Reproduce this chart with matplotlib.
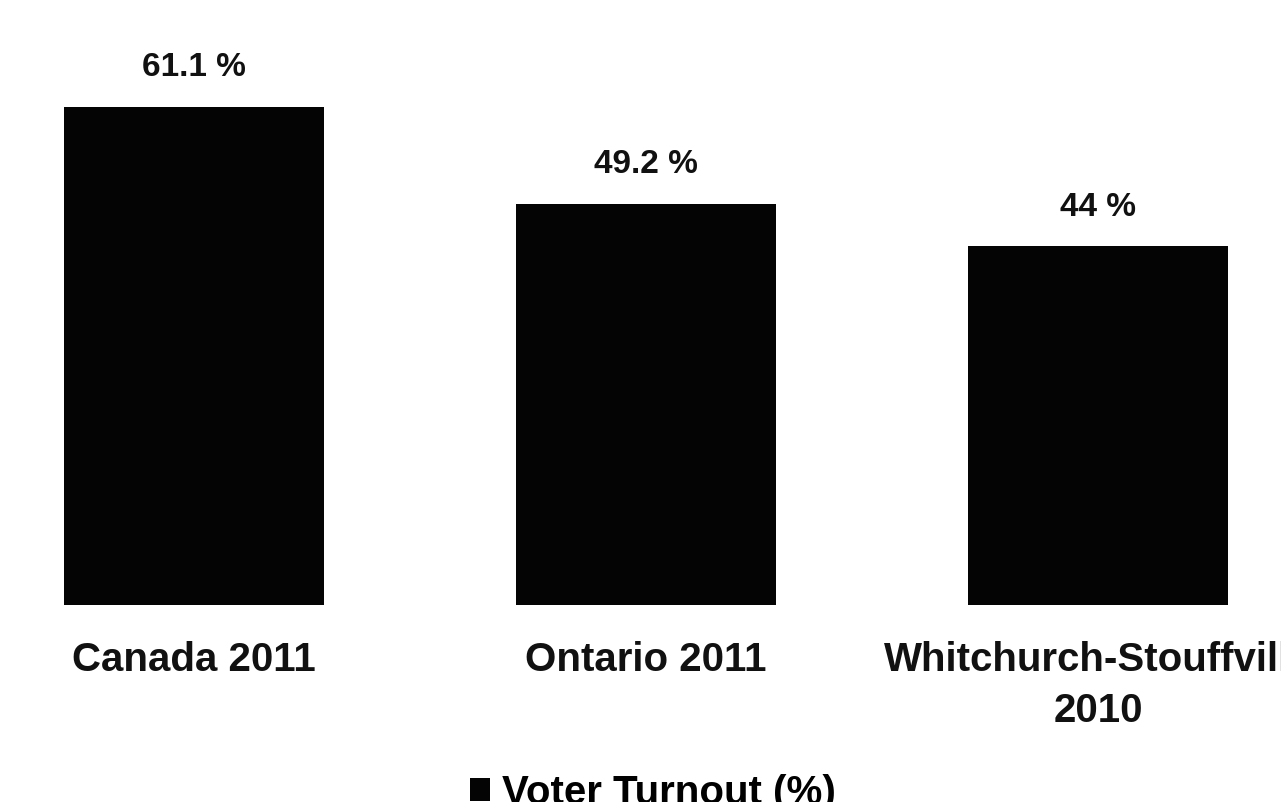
import matplotlib.pyplot as plt
import numpy as np

categories = ["Canada 2011", "Ontario 2011", "Whitchurch-Stouffville\n2010"]
turnout = [61.1, 49.2, 44.0]
value_labels = ["61.1 %", "49.2 %", "44 %"]
series_name = "Voter Turnout (%)"

plt.rcParams['font.family'] = ['Liberation Sans', 'DejaVu Sans']
plt.rcParams['font.weight'] = 'bold'

fig = plt.figure(figsize=(12.81, 8.02), dpi=100)
ax = fig.add_axes([0, 197 / 802, 1, 605 / 802])

x = np.arange(len(categories))
width = 0.575
bars = ax.bar(x, turnout, width=width, color="#040404", edgecolor="none", label=series_name)

ax.set_xlim(-0.429, 2.405)
ax.set_ylim(0, 74.2)

# value labels above bars
for xi, v, lab in zip(x, turnout, value_labels):
    ax.annotate(lab, (xi, v), xytext=(0, 17), textcoords="offset points",
                ha="center", va="bottom", fontsize=24, fontweight="bold", color="#111111")

ax.set_xticks(x)
ax.set_xticklabels(categories, fontsize=29, fontweight="bold", color="#111111",
                   linespacing=1.42)
ax.tick_params(axis="x", length=0, pad=26)

for s in ax.spines.values():
    s.set_visible(False)
ax.set_yticks([])

fig.legend(handles=[bars], labels=[series_name], loc="upper center",
           bbox_to_anchor=(0.51, 1 - 774 / 802), frameon=False, fontsize=29,
           handlelength=0.5, handleheight=0.5, handletextpad=0.3, borderaxespad=0,
           borderpad=0)

fig.savefig("out.png", dpi=100)
